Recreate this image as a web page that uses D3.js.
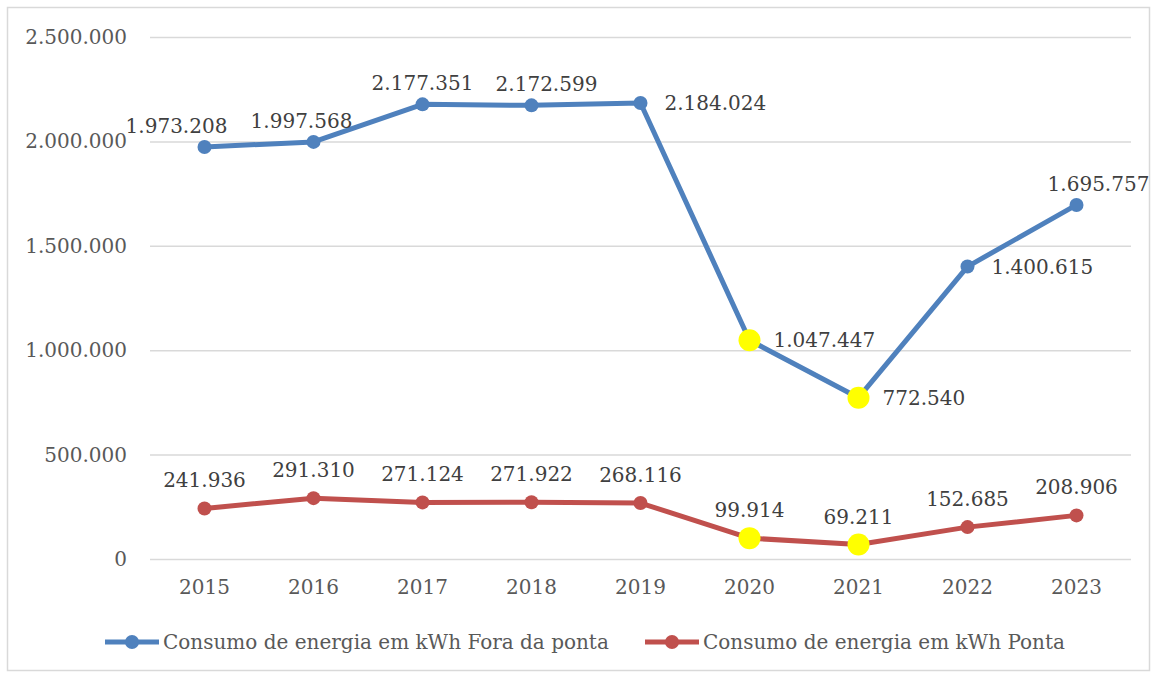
<!DOCTYPE html>
<html>
<head>
<meta charset="utf-8">
<script src="https://cdn.jsdelivr.net/npm/d3@7"></script>
<style>
  body { margin: 0; background: #fff; }
  text { font-family: "DejaVu Serif", "Liberation Serif", serif; }
</style>
</head>
<body>
<div id="chart"></div>
<script>
// data
const years = ["2015", "2016", "2017", "2018", "2019", "2020", "2021", "2022", "2023"];
const foraPonta = [1973208, 1997568, 2177351, 2172599, 2184024, 1047447, 772540, 1400615, 1695757];
const ponta = [241936, 291310, 271124, 271922, 268116, 99914, 69211, 152685, 208906];
const yTicks = [0, 500000, 1000000, 1500000, 2000000, 2500000];
const highlightYears = ["2020", "2021"];
const seriesNames = ["Consumo de energia em kWh Fora da ponta", "Consumo de energia em kWh Ponta"];

// label placement (a = above, r = right)
const foraPos = ["a", "a", "a", "a", "r", "r", "r", "r", "a"];
const foraDx = [-28, -12, 0, 15, 0, 0, 0, 0, 22];

const W = 1154, H = 675;
const margin = { left: 150, right: 23, top: 37, bottom: 116 };
const fs = "20px";

const svg = d3.select("#chart").append("svg")
  .attr("width", W).attr("height", H);

// outer border
svg.append("rect")
  .attr("x", 7.5).attr("y", 7.5).attr("width", W - 12).attr("height", H - 12)
  .attr("fill", "none").attr("stroke", "#d9d9d9").attr("stroke-width", 1.5);

const x = d3.scaleBand().domain(years).range([margin.left, W - margin.right]);
const y = d3.scaleLinear().domain([0, 2500000]).range([H - margin.bottom, margin.top]);

const loc = d3.formatLocale({ decimal: ",", thousands: ".", grouping: [3], currency: ["", ""] });
const fmt = loc.format(",d");

// gridlines + y labels
const yAxis = d3.axisLeft(y).tickValues(yTicks).tickFormat(fmt)
  .tickSize(-(W - margin.left - margin.right)).tickPadding(23);
const gy = svg.append("g").attr("transform", `translate(${margin.left},0)`).call(yAxis);
gy.select(".domain").remove();
gy.selectAll(".tick line").attr("stroke", "#d9d9d9").attr("stroke-width", 1.5);
gy.selectAll(".tick text").attr("fill", "#595959").style("font-size", fs)
  .style("font-family", "DejaVu Serif");

// x labels
const xAxis = d3.axisBottom(x).tickSize(0).tickPadding(21);
const gx = svg.append("g").attr("transform", `translate(0,${H - margin.bottom})`).call(xAxis);
gx.select(".domain").remove();
gx.selectAll(".tick text").attr("fill", "#595959").style("font-size", fs)
  .style("font-family", "DejaVu Serif");

const cx = d => x(d) + x.bandwidth() / 2;
const line = d3.line().x(d => cx(d.year)).y(d => y(d.v));

const series = [
  { name: seriesNames[0], color: "#4f81bd", values: years.map((yr, i) => ({ year: yr, v: foraPonta[i], i })) },
  { name: seriesNames[1], color: "#c0504d", values: years.map((yr, i) => ({ year: yr, v: ponta[i], i })) }
];

series.forEach((s, si) => {
  svg.append("path").datum(s.values)
    .attr("d", line).attr("fill", "none")
    .attr("stroke", s.color).attr("stroke-width", 5).attr("stroke-linejoin", "round");

  svg.selectAll(null).data(s.values).enter().append("circle")
    .attr("cx", d => cx(d.year)).attr("cy", d => y(d.v))
    .attr("r", d => highlightYears.includes(d.year) ? 11 : 7)
    .attr("fill", d => highlightYears.includes(d.year) ? "#ffff00" : s.color);

  svg.selectAll(null).data(s.values).enter().append("text")
    .attr("x", d => {
      if (si === 0 && foraPos[d.i] === "r") return cx(d.year) + 24;
      return cx(d.year) + (si === 0 ? foraDx[d.i] : 0);
    })
    .attr("y", d => {
      if (si === 0 && foraPos[d.i] === "r") return y(d.v) + 7;
      return y(d.v) - (si === 0 ? 14 : 21);
    })
    .attr("text-anchor", d => (si === 0 && foraPos[d.i] === "r") ? "start" : "middle")
    .attr("fill", "#404040").style("font-size", fs)
    .text(d => fmt(d.v));
});

// legend
const legendX = [105, 645];
series.forEach((s, i) => {
  const g = svg.append("g").attr("transform", `translate(${legendX[i]},642)`);
  g.append("line").attr("x1", 0).attr("x2", 54).attr("y1", 0).attr("y2", 0)
    .attr("stroke", s.color).attr("stroke-width", 5);
  g.append("circle").attr("cx", 27).attr("cy", 0).attr("r", 7).attr("fill", s.color);
  g.append("text").attr("x", 58).attr("y", 7).attr("fill", "#595959")
    .style("font-size", fs).text(s.name);
});
</script>
</body>
</html>
